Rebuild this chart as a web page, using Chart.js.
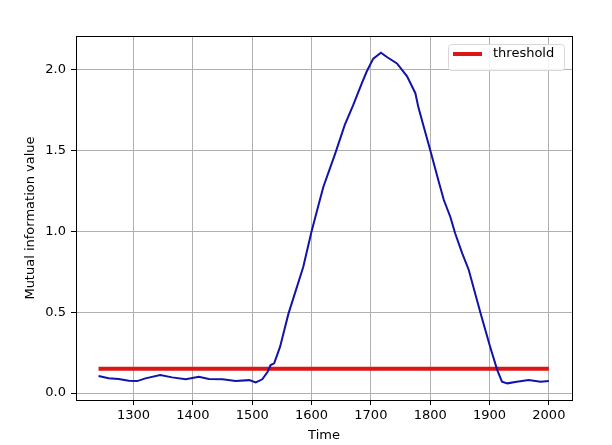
<!DOCTYPE html>
<html>
<head>
<meta charset="utf-8">
<script src="https://cdn.jsdelivr.net/npm/chart.js@4"></script>
<style>
  body { margin: 0; background: #fff; }
</style>
</head>
<body>
<canvas id="miChart" width="612" height="445"></canvas>
<script>
// values
const timeValues = [1241, 1258, 1275, 1292, 1306, 1320, 1345, 1365, 1388, 1410, 1427, 1450, 1472, 1495, 1506, 1517, 1526, 1531, 1537, 1543, 1547, 1561, 1586, 1600, 1614, 1620, 1640, 1656, 1670, 1685, 1693, 1704, 1717, 1727, 1744, 1761, 1775, 1780, 1789, 1800, 1815, 1823, 1834, 1842, 1854, 1865, 1885, 1901, 1913, 1921, 1930, 1946, 1966, 1986, 2000]
const miValues = [0.105, 0.091, 0.087, 0.076, 0.074, 0.091, 0.111, 0.097, 0.085, 0.101, 0.087, 0.085, 0.074, 0.080, 0.066, 0.085, 0.132, 0.173, 0.184, 0.246, 0.287, 0.49, 0.78, 1.0, 1.195, 1.277, 1.484, 1.66, 1.78, 1.92, 1.99, 2.07, 2.107, 2.08, 2.04, 1.96, 1.856, 1.77, 1.65, 1.505, 1.30, 1.195, 1.09, 0.989, 0.865, 0.762, 0.493, 0.287, 0.142, 0.070, 0.060, 0.070, 0.080, 0.070, 0.074]
const thresholdValue = 0.15
const thresholdRange = [1241, 2000]
const xTicks = [1300, 1400, 1500, 1600, 1700, 1800, 1900, 2000]
const yTicks = [0.0, 0.5, 1.0, 1.5, 2.0]

const font = { family: 'DejaVu Sans', size: 13 }

// black frame all round, like matplotlib
const frame = {
    id: 'frame',
    afterDraw(chart) {
        const a = chart.chartArea
        const ctx = chart.ctx
        ctx.save()
        ctx.strokeStyle = '#000'
        ctx.lineWidth = 1
        ctx.strokeRect(Math.round(a.left) + 0.5, Math.round(a.top) + 0.5,
            Math.round(a.right - a.left), Math.round(a.bottom - a.top))
        ctx.restore()
    }
}

// legend inside the axes, upper right
const innerLegend = {
    id: 'innerLegend',
    afterDraw(chart) {
        const ds = chart.data.datasets[1]
        const a = chart.chartArea
        const ctx = chart.ctx
        const w = 116, h = 26
        const x = a.right - 8 - w, y = a.top + 8
        ctx.save()
        ctx.fillStyle = 'rgba(255,255,255,0.85)'
        ctx.strokeStyle = '#d8d8d8'
        ctx.lineWidth = 1
        ctx.beginPath()
        ctx.roundRect(x + 0.5, y + 0.5, w, h, 3)
        ctx.fill()
        ctx.stroke()
        ctx.strokeStyle = ds.borderColor
        ctx.lineWidth = 4
        ctx.beginPath()
        ctx.moveTo(x + 5, y + 10)
        ctx.lineTo(x + 34, y + 10)
        ctx.stroke()
        ctx.fillStyle = '#000'
        ctx.font = '13px "DejaVu Sans"'
        ctx.textBaseline = 'middle'
        ctx.fillText(ds.label, x + 45, y + 10)
        ctx.restore()
    }
}

const config = {
    type: 'scatter',
    data: {
        datasets: [
            {
                label: 'MI',
                data: timeValues.map((t, i) => ({ x: t, y: miValues[i] })),
                showLine: true,
                borderColor: '#1212aa',
                borderWidth: 2,
                pointRadius: 0,
                tension: 0,
                order: 0,
            },
            {
                label: 'threshold',
                data: thresholdRange.map(t => ({ x: t, y: thresholdValue })),
                showLine: true,
                borderColor: '#dd1515',
                borderWidth: 4,
                pointRadius: 0,
                order: 1,
            },
        ],
    },
    options: {
        responsive: false,
        animation: false,
        layout: { padding: { top: 36, right: 40, left: 0, bottom: 0 } },
        plugins: { legend: { display: false }, tooltip: { enabled: false } },
        scales: {
            x: {
                type: 'linear',
                min: 1203,
                max: 2039,
                afterBuildTicks: s => { s.ticks = xTicks.map(v => ({ value: v })) },
                afterFit: s => { s.height = 45 },
                ticks: { font, color: '#000', padding: 3, callback: v => String(v) },
                grid: { color: '#b0b0b0', lineWidth: 1, tickColor: '#000', tickLength: 5 },
                border: { display: false },
                title: { display: true, text: 'Time', font, color: '#000', padding: { top: 0, bottom: 2 } },
            },
            y: {
                type: 'linear',
                min: -0.043,
                max: 2.21,
                afterBuildTicks: s => { s.ticks = yTicks.map(v => ({ value: v })) },
                afterFit: s => { s.width = 76 },
                ticks: { font, color: '#000', padding: 5, callback: v => v.toFixed(1) },
                grid: { color: '#b0b0b0', lineWidth: 1, tickColor: '#000', tickLength: 5 },
                border: { display: false },
                title: { display: true, text: 'Mutual information value', font, color: '#000', padding: { top: 23, bottom: 0 } },
            },
        },
    },
    plugins: [frame, innerLegend],
}

new Chart(document.getElementById('miChart'), config)
</script>
</body>
</html>
